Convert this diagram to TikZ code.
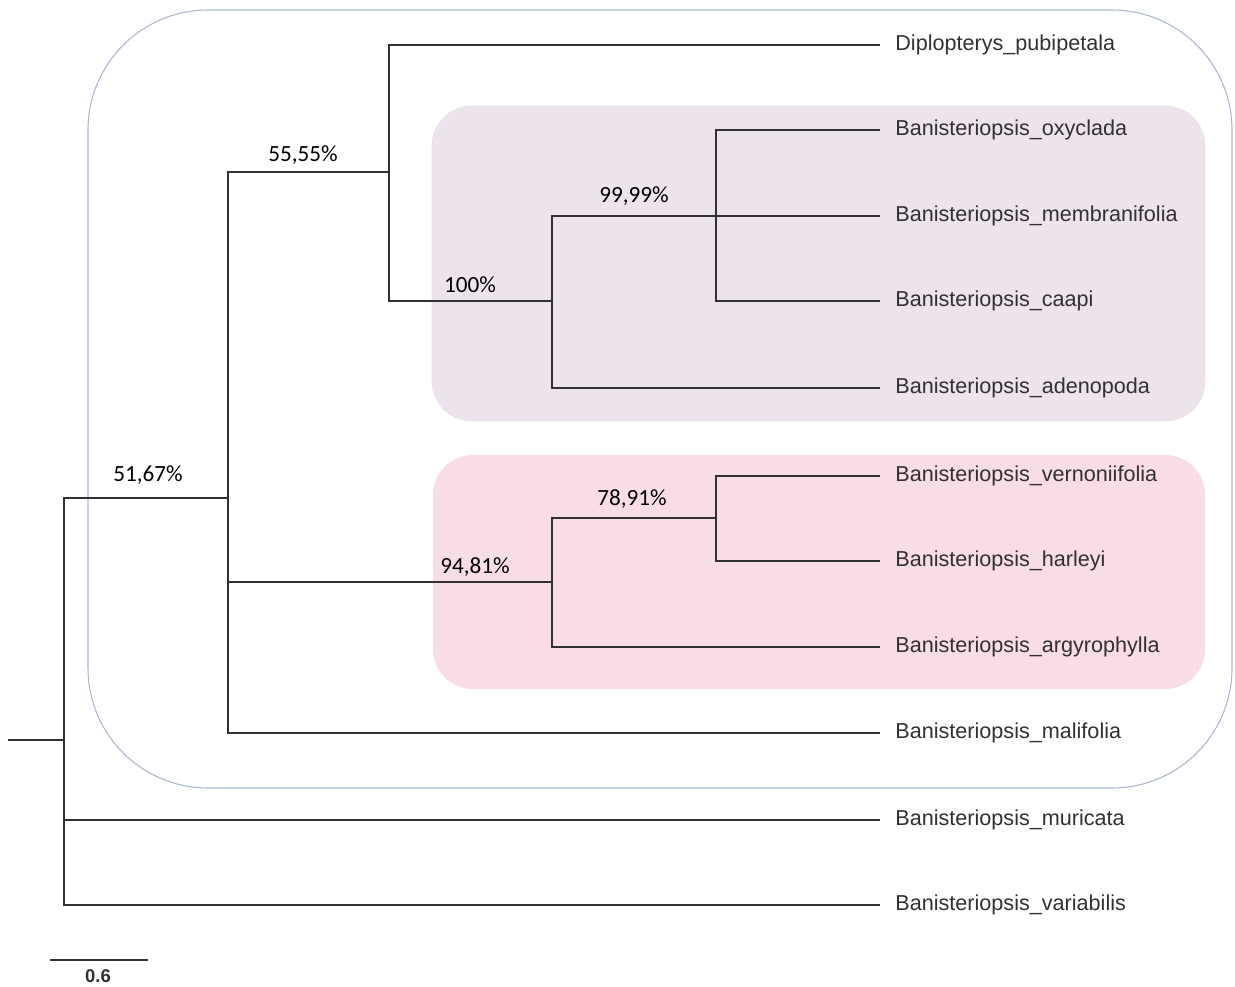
\documentclass[tikz,border=0pt]{standalone}
\usepackage{fontspec}
\setmainfont{Liberation Sans}
\newfontfamily\supportfont{Carlito}
\usetikzlibrary{positioning}
\definecolor{frame}{HTML}{A9B6CF}
\definecolor{clade purple}{HTML}{EDE3EC}
\definecolor{clade pink}{HTML}{F8DDE5}
\definecolor{twig}{HTML}{333033}

\begin{document}
\begin{tikzpicture}[x=0.02cm, y=-0.02cm]
    \tikzset
    {
        branch/.style = {draw = twig,
                         line width = 1.1pt},
        leaf/.style = {anchor = west,
                       inner xsep = 0.3cm,
                       inner ysep = 0pt,
                       text = twig,
                       font = \fontsize{12.3}{14}\selectfont},
        support/.style = {inner sep = 0pt,
                          font = \supportfont\fontsize{13.2}{15}\selectfont},
        clade/.style = {rounded corners = 0.8cm}
    };
    \useasboundingbox (0,0) rectangle (1235,987);

    % Boxes
    \draw[frame, line width=0.6pt, rounded corners=2.4cm] (88,10) rectangle (1232,788);
    \filldraw[clade, fill=clade purple, draw=black!10] (432,106) rectangle (1205,421);
    \fill[clade, fill=clade pink] (433,455) rectangle (1205,689);

    % Leaves
    \node[leaf] (pubipetala)    at (880,45)  {Diplopterys\_pubipetala};
    \node[leaf] (oxyclada)      at (880,130) {Banisteriopsis\_oxyclada};
    \node[leaf] (membranifolia) at (880,216) {Banisteriopsis\_membranifolia};
    \node[leaf] (caapi)         at (880,301) {Banisteriopsis\_caapi};
    \node[leaf] (adenopoda)     at (880,388) {Banisteriopsis\_adenopoda};
    \node[leaf] (vernoniifolia) at (880,476) {Banisteriopsis\_vernoniifolia};
    \node[leaf] (harleyi)       at (880,561) {Banisteriopsis\_harleyi};
    \node[leaf] (argyrophylla)  at (880,647) {Banisteriopsis\_argyrophylla};
    \node[leaf] (malifolia)     at (880,733) {Banisteriopsis\_malifolia};
    \node[leaf] (muricata)      at (880,820) {Banisteriopsis\_muricata};
    \node[leaf] (variabilis)    at (880,905) {Banisteriopsis\_variabilis};

    % Inner nodes
    \coordinate (stem)  at (8,740);
    \coordinate (root)  at (64,740);
    \coordinate (n 51)  at (228,498);
    \coordinate (n 55)  at (389,172);
    \coordinate (n 100) at (552,301);
    \coordinate (n 99)  at (716,216);
    \coordinate (n 94)  at (552,582);
    \coordinate (n 78)  at (716,518);

    % Support values
    \node[support] (s 51)  at (148,475) {51,67\%};
    \node[support] (s 55)  at (303,155) {55,55\%};
    \node[support] (s 100) at (470,285) {100\%};
    \node[support] (s 99)  at (634,196) {99,99\%};
    \node[support] (s 94)  at (475,567) {94,81\%};
    \node[support] (s 78)  at (632,499) {78,91\%};

    % Branches
    \draw[branch]
        (stem)  --  (root)
        (root)  |-  (n 51)
        (root)  |-  (muricata.west)
        (root)  |-  (variabilis.west)
        (n 51)  |-  (n 55)
        (n 51)  |-  (n 94)
        (n 51)  |-  (malifolia.west)
        (n 55)  |-  (pubipetala.west)
        (n 55)  |-  (n 100)
        (n 100) |-  (n 99)
        (n 100) |-  (adenopoda.west)
        (n 99)  |-  (oxyclada.west)
        (n 99)  --  (membranifolia.west)
        (n 99)  |-  (caapi.west)
        (n 94)  |-  (n 78)
        (n 94)  |-  (argyrophylla.west)
        (n 78)  |-  (vernoniifolia.west)
        (n 78)  |-  (harleyi.west);

    % Scale bar
    \coordinate (bar left)  at (50,960);
    \coordinate (bar right) at (148,960);
    \draw[branch] (bar left) -- (bar right);
    \node[inner sep=0pt, text=twig, font=\bfseries\fontsize{10.5}{11}\selectfont] (bar label) at (98,976) {0.6};

\end{tikzpicture}
\end{document}
